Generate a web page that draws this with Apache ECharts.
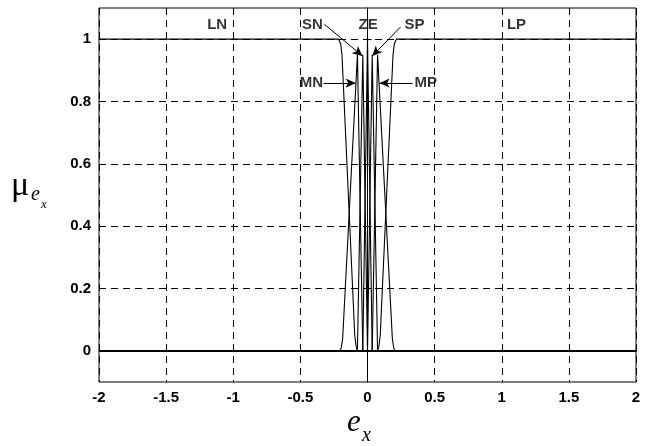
<!DOCTYPE html>
<html><head><meta charset="utf-8">
<script src="https://cdn.jsdelivr.net/npm/echarts@6/dist/echarts.min.js"></script>
<style>html,body{margin:0;padding:0;background:#fff}#c{width:652px;height:446px}</style>
</head><body><div id="c"></div>
<script>
// ---- data ----
const xTicks = [-2, -1.5, -1, -0.5, 0, 0.5, 1, 1.5, 2];
const yTicks = [0, 0.2, 0.4, 0.6, 0.8, 1];
const setNames = ['LN', 'MN', 'SN', 'ZE', 'SP', 'MP', 'LP'];

const LN_x = [-2, -0.215, -0.2, -0.19, -0.095, -0.085, -0.075, 2];
const LN_y = [1, 1, 0.985, 0.95, 0.05, 0.015, 0, 0];
const MN_x = [-2, -0.205, -0.195, -0.185, -0.075, -0.035, 2];
const MN_y = [0, 0, 0.01, 0.04, 0.95, 0, 0];
const SN_x = [-2, -0.075, -0.035, 0, 2];
const SN_y = [0, 0, 0.95, 0, 0];
const ZE_x = [-2, -0.035, 0, 0.035, 2];
const ZE_y = [0, 0, 1, 0, 0];
const SP_x = [-2, 0, 0.035, 0.075, 2];
const SP_y = [0, 0, 0.95, 0, 0];
const MP_x = [-2, 0.035, 0.075, 0.185, 0.195, 0.205, 2];
const MP_y = [0, 0, 0.95, 0.04, 0.01, 0, 0];
const LP_x = [-2, 0.075, 0.085, 0.095, 0.19, 0.2, 0.215, 2];
const LP_y = [0, 0, 0.015, 0.05, 0.95, 0.985, 1, 1];

// annotation texts (data coordinates)
const labelText = ['LN', 'SN', 'ZE', 'SP', 'LP', 'MN', 'MP'];
const labelX = [-1.12, -0.41, 0.005, 0.35, 1.11, -0.418, 0.433];
const labelY = [1.045, 1.045, 1.045, 1.045, 1.045, 0.859, 0.859];
// arrows: start -> end (data coordinates)
const arrowX0 = [-0.321, 0.246, -0.328, 0.336];
const arrowY0 = [1.048, 1.039, 0.859, 0.859];
const arrowX1 = [-0.037, 0.035, -0.088, 0.09];
const arrowY1 = [0.946, 0.946, 0.859, 0.859];

// ---- build ----
const zip = (xs, ys) => xs.map((x, i) => [x, ys[i]]);
const setData = {
  LN: zip(LN_x, LN_y), MN: zip(MN_x, MN_y), SN: zip(SN_x, SN_y), ZE: zip(ZE_x, ZE_y),
  SP: zip(SP_x, SP_y), MP: zip(MP_x, MP_y), LP: zip(LP_x, LP_y)
};
const font = '"Liberation Sans", Arial, sans-serif';

const series = setNames.map(n => ({
  name: n, type: 'line', data: setData[n], showSymbol: false, symbol: 'none',
  lineStyle: { color: '#000', width: 1.1 }, silent: true, animation: false, z: 3
}));
// emphasise the common zero baseline of all sets
series[0].markLine = {
  silent: true, animation: false, symbol: ['none', 'none'],
  lineStyle: { color: '#000', width: 2, type: 'solid' }, label: { show: false },
  data: [{ yAxis: 0 }]
};

series.push({
  type: 'scatter', data: labelText.map((t, i) => [labelX[i], labelY[i], t]),
  symbolSize: 0, silent: true, animation: false, z: 5,
  label: { show: true, position: 'inside', formatter: p => p.value[2],
    color: '#000', fontFamily: font, fontWeight: 'bold', fontSize: 15 },
  markLine: {
    silent: true, animation: false, symbol: ['none', 'arrow'], symbolSize: [7, 10],
    lineStyle: { color: '#000', width: 1, type: 'solid' }, label: { show: false },
    data: arrowX0.map((x, i) => [{ coord: [x, arrowY0[i]] }, { coord: [arrowX1[i], arrowY1[i]] }])
  }
});

const chart = echarts.init(document.getElementById('c'), null, { renderer: 'canvas' });
chart.setOption({
  animation: false,
  backgroundColor: '#fff',
  grid: { left: 99, right: 16, top: 8, bottom: 64, show: true, borderColor: '#000', borderWidth: 1, backgroundColor: 'transparent' },
  xAxis: {
    type: 'value', min: xTicks[0], max: xTicks[xTicks.length - 1], interval: 0.5,
    axisLine: { show: true, lineStyle: { color: '#000', width: 1 } },
    axisTick: { show: true, inside: true, length: 4, lineStyle: { color: '#000' } },
    axisLabel: { color: '#000', fontFamily: font, fontWeight: 'bold', fontSize: 15, margin: 8,
      formatter: v => String(v) },
    splitLine: { show: true, lineStyle: { color: '#000', width: 1, type: [7, 5] } }
  },
  yAxis: {
    type: 'value', min: -0.1, max: 1.1,
    axisLine: { show: true, lineStyle: { color: '#000', width: 1 } },
    axisTick: { show: true, inside: true, length: 4, customValues: yTicks, lineStyle: { color: '#000' } },
    axisLabel: { color: '#000', fontFamily: font, fontWeight: 'bold', fontSize: 15, margin: 8,
      customValues: yTicks, formatter: v => String(v) },
    splitLine: { show: true, lineStyle: { color: '#000', width: 1, type: [7, 5] } }
  },
  graphic: [
    { type: 'text', x: 11, y: 186, style: { text: 'μ', font: '34px "Liberation Serif", serif', fill: '#000', verticalAlign: 'middle' } },
    { type: 'text', x: 31, y: 195, style: { text: 'e', font: 'italic 20px "Liberation Serif", serif', fill: '#000', verticalAlign: 'middle' } },
    { type: 'text', x: 41, y: 205, style: { text: 'x', font: 'italic 13px "Liberation Serif", serif', fill: '#000', verticalAlign: 'middle' } },
    { type: 'text', x: 347, y: 423, style: { text: 'e', font: 'italic 31px "Liberation Serif", serif', fill: '#000', verticalAlign: 'middle' } },
    { type: 'text', x: 362, y: 436, style: { text: 'x', font: 'italic 20px "Liberation Serif", serif', fill: '#000', verticalAlign: 'middle' } }
  ],
  series: series
});
</script>
</body></html>
